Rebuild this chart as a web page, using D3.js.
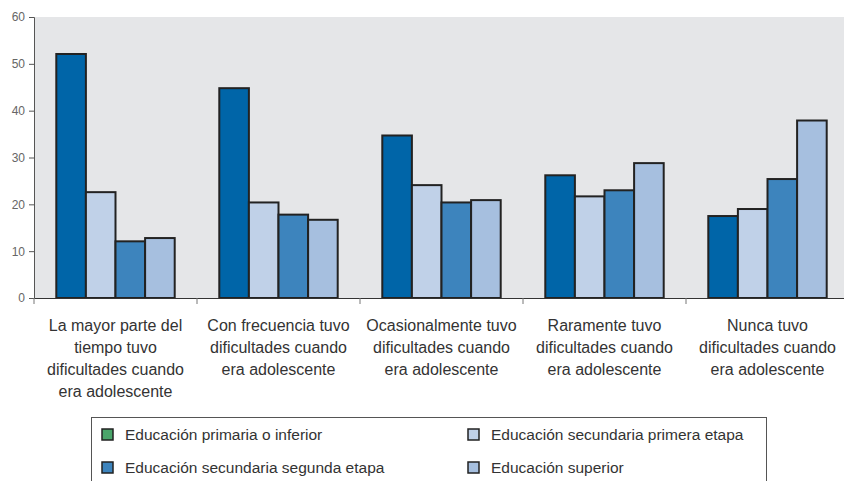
<!DOCTYPE html>
<html><head><meta charset="utf-8">
<script src="https://cdn.jsdelivr.net/npm/d3@7"></script>
<style>body{margin:0;background:#fff;}svg{display:block;font-family:"Liberation Sans",Arial,sans-serif;}</style>
</head><body><svg id="c" width="844" height="481"></svg>
<script>
const categories = [
  ["La mayor parte del","tiempo tuvo","dificultades cuando","era adolescente"],
  ["Con frecuencia tuvo","dificultades cuando","era adolescente"],
  ["Ocasionalmente tuvo","dificultades cuando","era adolescente"],
  ["Raramente tuvo","dificultades cuando","era adolescente"],
  ["Nunca tuvo","dificultades cuando","era adolescente"]
];
const seriesNames = ["Educación primaria o inferior","Educación secundaria primera etapa","Educación secundaria segunda etapa","Educación superior"];
const primaria   = [52.1, 44.8, 34.7, 26.2, 17.5];
const secPrimera = [22.6, 20.4, 24.1, 21.7, 19.0];
const secSegunda = [12.1, 17.8, 20.4, 23.0, 25.4];
const superior   = [12.8, 16.7, 20.9, 28.8, 37.9];
const yTicks = [0,10,20,30,40,50,60];
const barColors = ["#0065a8","#c0d1e8","#3d84bd","#a6bfdf"];
const legendColors = ["#4aa56a","#c0d1e8","#3d84bd","#a6bfdf"];

const series = [primaria, secPrimera, secSegunda, superior];
const svg = d3.select("#c");
const m = {l:34, t:17, r:849, b:298};
const x = d3.scaleBand().domain(d3.range(categories.length)).range([m.l, m.r]).paddingInner(0).paddingOuter(0);
const xi = d3.scaleBand().domain(d3.range(4)).range([0, x.bandwidth()]).paddingOuter(0.753).paddingInner(0);
const y = d3.scaleLinear().domain([0,60]).range([m.b, m.t]);

svg.append("rect").attr("x",m.l).attr("y",m.t).attr("width",m.r-m.l).attr("height",m.b-m.t).attr("fill","#e5e6e8");

// bars
const g = svg.append("g");
categories.forEach((c,i)=>{
  series.forEach((s,j)=>{
    g.append("rect")
      .attr("x", x(i)+xi(j)).attr("y", y(s[i]))
      .attr("width", xi.bandwidth()).attr("height", y(0)-y(s[i]))
      .attr("fill", barColors[j]).attr("stroke","#222").attr("stroke-width",2);
  });
});

// y axis
const ya = svg.append("g").attr("transform",`translate(${m.l},0)`)
  .call(d3.axisLeft(y).tickValues(yTicks).tickSize(5).tickPadding(4));
ya.select(".domain").attr("stroke","#555");
ya.selectAll(".tick line").attr("stroke","#555");
ya.selectAll("text").attr("fill","#666").style("font-size","12px");

// x axis
const xa = svg.append("g").attr("transform",`translate(0,${m.b})`)
  .call(d3.axisBottom(x).tickValues([]).tickSizeOuter(0));
xa.select(".domain").attr("stroke","#333");
svg.append("g").selectAll("line").data(d3.range(categories.length+1)).join("line")
  .attr("x1",d=>m.l+d*x.bandwidth()).attr("x2",d=>m.l+d*x.bandwidth())
  .attr("y1",m.b).attr("y2",m.b+6).attr("stroke","#777");

// category labels
categories.forEach((lines,i)=>{
  const t = svg.append("text").attr("text-anchor","middle").attr("fill","#333").style("font-size","16px");
  lines.forEach((ln,k)=>{
    t.append("tspan").attr("x", x(i)+x.bandwidth()/2).attr("y", 331+k*22).text(ln);
  });
});

// legend
svg.append("rect").attr("x",91.5).attr("y",417.5).attr("width",675).attr("height",80)
  .attr("fill","#fff").attr("stroke","#555").attr("stroke-width",1);
const legPos = [[107,434],[473,434],[107,467],[473,467]];
seriesNames.forEach((n,j)=>{
  const [lx,ly] = legPos[j];
  svg.append("rect").attr("x",lx-5).attr("y",ly-5).attr("width",11).attr("height",11)
    .attr("fill",legendColors[j]).attr("stroke","#222").attr("stroke-width",1.5);
  svg.append("text").attr("x",lx+18).attr("y",ly+5.5).attr("fill","#333").style("font-size","15.5px").text(n);
});
</script></body></html>
